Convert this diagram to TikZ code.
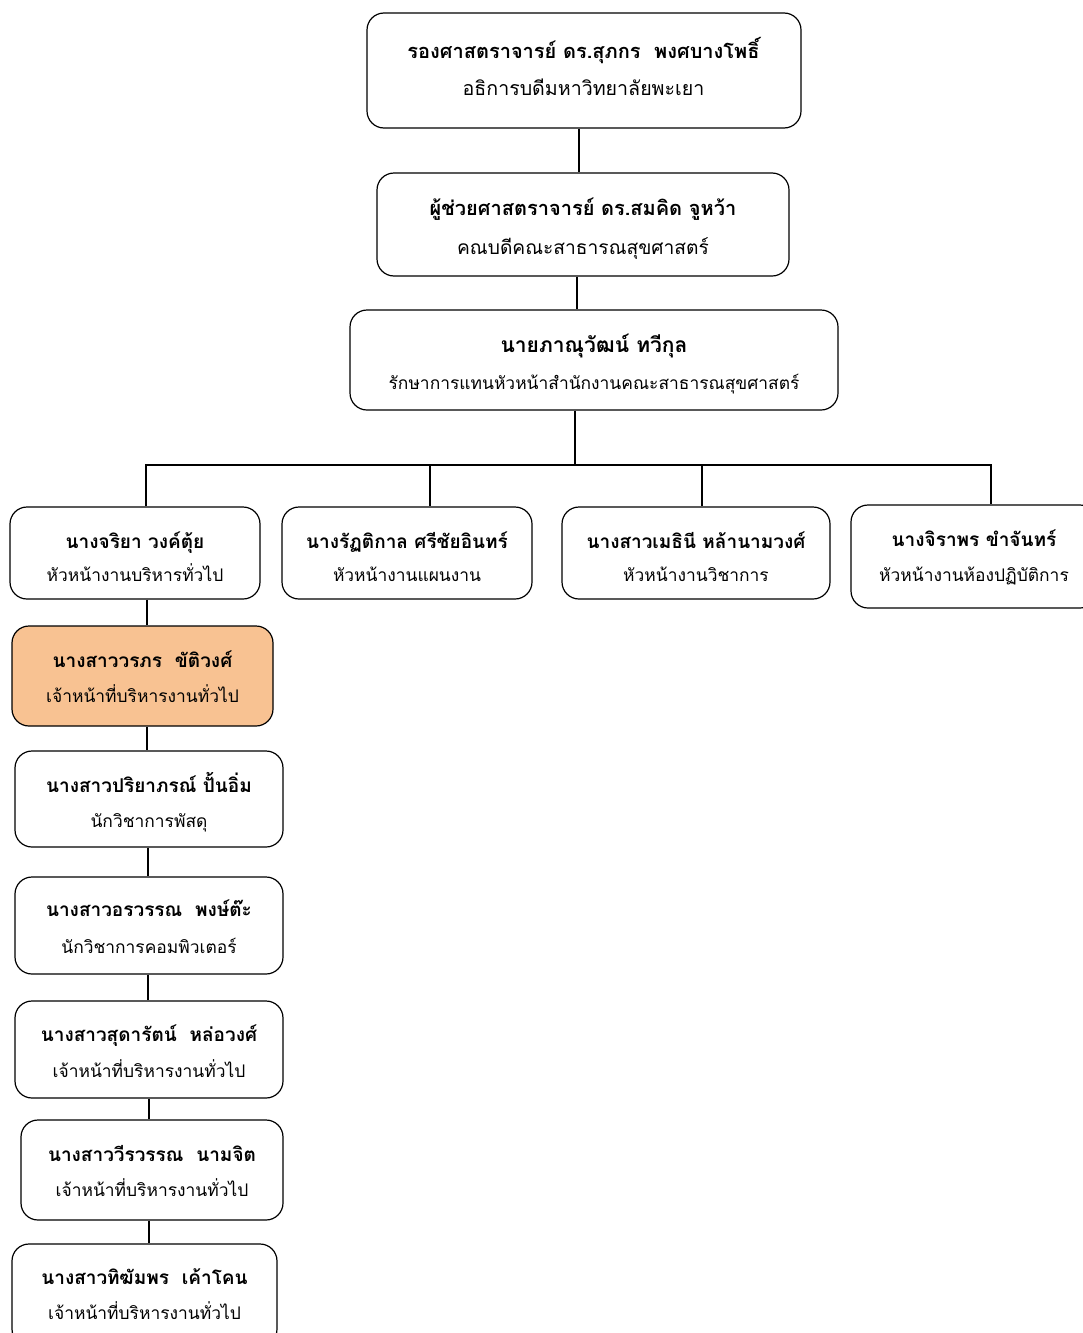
\documentclass[tikz,border=0pt]{standalone}
\usepackage{fontspec}
\newfontfamily\thaifont[Script=Thai]{Loma}
\definecolor{orgfill}{RGB}{248,194,146}
\tikzset{
  orgbox/.style={draw=black, line width=1.2pt, rounded corners=17pt, inner sep=0pt},
  nameL/.style={anchor=base, inner sep=0pt, font=\thaifont\bfseries\fontsize{20}{24}\selectfont},
  titleL/.style={anchor=base, inner sep=0pt, font=\thaifont\fontsize{19.6}{24}\selectfont},
  nameS/.style={anchor=base, inner sep=0pt, font=\thaifont\bfseries\fontsize{19}{23}\selectfont},
  titleS/.style={anchor=base, inner sep=0pt, font=\thaifont\fontsize{17.4}{21}\selectfont},
  conn/.style={draw=black, line width=1.2pt}
}
\begin{document}
\begin{tikzpicture}[x=1pt,y=-1pt]
\useasboundingbox (0,0) rectangle (1083,1333);
% boxes
\node[orgbox, minimum width=434pt, minimum height=115pt] (top) at (584,70.5) {};
\node[orgbox, minimum width=412pt, minimum height=103pt] (dean) at (583,224.5) {};
\node[orgbox, minimum width=488pt, minimum height=100pt] (head) at (594,360) {};
\node[orgbox, minimum width=250pt, minimum height=92pt] (a) at (135,553) {};
\node[orgbox, minimum width=250pt, minimum height=92pt] (b) at (407,553) {};
\node[orgbox, minimum width=268pt, minimum height=92pt] (c) at (696,553) {};
\node[orgbox, minimum width=246pt, minimum height=103pt] (d) at (974,556.5) {};
\node[orgbox, fill=orgfill, minimum width=261pt, minimum height=100pt] (e) at (142.5,676) {};
\node[orgbox, minimum width=268pt, minimum height=96pt] (f) at (149,799) {};
\node[orgbox, minimum width=268pt, minimum height=97pt] (g) at (149,925.5) {};
\node[orgbox, minimum width=268pt, minimum height=97pt] (h) at (149,1049.5) {};
\node[orgbox, minimum width=262pt, minimum height=100pt] (i) at (152,1170) {};
\node[orgbox, minimum width=265pt, minimum height=102pt] (j) at (144.5,1295) {};
% texts
\node[nameL] (topN) at (583.5,58) {รองศาสตราจารย์ ดร.สุภกร~~พงศบางโพธิ์};
\node[titleL] (topT) at (583.5,95) {อธิการบดีมหาวิทยาลัยพะเยา};
\node[nameL] (deanN) at (583,215.5) {ผู้ช่วยศาสตราจารย์ ดร.สมคิด จูหว้า};
\node[titleL, font=\thaifont\fontsize{19.2}{23}\selectfont] (deanT) at (583,254) {คณบดีคณะสาธารณสุขศาสตร์};
\node[nameL, font=\thaifont\bfseries\fontsize{21}{25}\selectfont] (headN) at (594,352) {นายภาณุวัฒน์ ทวีกุล};
\node[titleS] (headT) at (594,389) {รักษาการแทนหัวหน้าสำนักงานคณะสาธารณสุขศาสตร์};
\node[nameS] (aN) at (135,548) {นางจริยา วงค์ตุ้ย};
\node[titleS] (aT) at (135,581) {หัวหน้างานบริหารทั่วไป};
\node[nameS] (bN) at (407,548) {นางรัฏติกาล ศรีชัยอินทร์};
\node[titleS] (bT) at (407,581) {หัวหน้างานแผนงาน};
\node[nameS] (cN) at (696,548) {นางสาวเมธินี หล้านามวงศ์};
\node[titleS] (cT) at (696,581) {หัวหน้างานวิชาการ};
\node[nameS] (dN) at (974,546) {นางจิราพร ขำจันทร์};
\node[titleS] (dT) at (974,581) {หัวหน้างานห้องปฏิบัติการ};
\node[nameS] (eN) at (142.5,667) {นางสาววรภร~~ขัติวงศ์};
\node[titleS] (eT) at (142.5,702) {เจ้าหน้าที่บริหารงานทั่วไป};
\node[nameS] (fN) at (149,792) {นางสาวปริยาภรณ์ ปั้นอิ่ม};
\node[titleS] (fT) at (149,827) {นักวิชาการพัสดุ};
\node[nameS] (gN) at (149,916) {นางสาวอรวรรณ~~พงษ์ต๊ะ};
\node[titleS] (gT) at (149,953) {นักวิชาการคอมพิวเตอร์};
\node[nameS] (hN) at (149,1041) {นางสาวสุดารัตน์~~หล่อวงศ์};
\node[titleS] (hT) at (149,1077) {เจ้าหน้าที่บริหารงานทั่วไป};
\node[nameS] (iN) at (152,1161) {นางสาววีรวรรณ~~นามจิต};
\node[titleS] (iT) at (152,1196) {เจ้าหน้าที่บริหารงานทั่วไป};
\node[nameS] (jN) at (144.5,1284) {นางสาวทิฆัมพร~~เค้าโคน};
\node[titleS] (jT) at (144.5,1319) {เจ้าหน้าที่บริหารงานทั่วไป};
% connectors
\draw[conn] ([xshift=-5pt]top.south) -- ([xshift=-4pt]dean.north);
\draw[conn] ([xshift=-6pt]dean.south) -- ([xshift=-17pt]head.north);
\coordinate (busM) at (575,465);
\coordinate (busL) at (146,465);
\coordinate (busB) at (430,465);
\coordinate (busC) at (702,465);
\coordinate (busR) at (991,465);
\draw[conn] (head.south -| busM) -- (busM);
\draw[conn] (a.north -| busL) -- (busL) -- (busR) -- (d.north -| busR);
\draw[conn] (busB) -- (b.north -| busB);
\draw[conn] (busC) -- (c.north -| busC);
\coordinate (colA) at (147,0);
\coordinate (colB) at (148,0);
\coordinate (colC) at (149,0);
\draw[conn] (a.south -| colA) -- (e.north -| colA);
\draw[conn] (e.south -| colA) -- (f.north -| colA);
\draw[conn] (f.south -| colB) -- (g.north -| colB);
\draw[conn] (g.south -| colB) -- (h.north -| colB);
\draw[conn] (h.south -| colC) -- (i.north -| colC);
\draw[conn] (i.south -| colC) -- (j.north -| colC);
\end{tikzpicture}
\end{document}
